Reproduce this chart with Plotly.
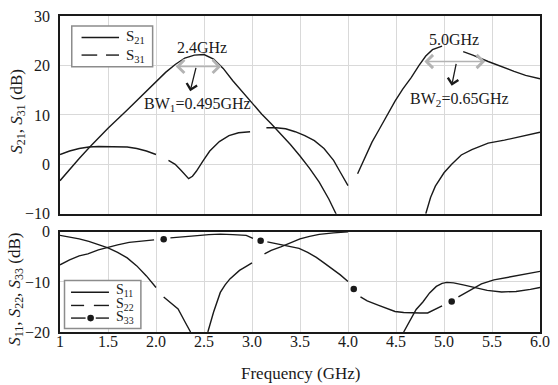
import plotly.graph_objects as go

# ---------------- data ----------------
# Top panel: S21 (solid) and S31 (long-dashed, gaps are None)
s21_freq = [1.0, 1.1, 1.2, 1.31, 1.5, 1.7, 1.9, 2.0, 2.1, 2.2, 2.3, 2.4, 2.5, 2.6, 2.7,
            2.8, 2.9, 3.0, 3.1, 3.2, 3.3, 3.4, 3.5, 3.6, 3.7, 3.8, 3.9, None,
            4.81, 4.86, 4.91, 5.0, 5.08, 5.18, 5.29, 5.46, 5.63, 5.8, 6.0]
s21_db = [-3.3, -1.0, 1.2, 3.5, 7.3, 11.0, 14.9, 16.8, 18.6, 20.2, 21.5, 22.1, 22.2, 21.3, 19.4,
          16.9, 14.6, 12.4, 10.2, 8.2, 6.2, 4.0, 1.7, -0.8, -3.6, -7.0, -11.0, None,
          -10.0, -6.7, -4.4, -1.7, 0.0, 1.9, 3.0, 4.3, 4.9, 5.7, 6.5]

s31_freq = [1.0, 1.1, 1.2, 1.3, 1.4, 1.5, 1.6, 1.7, 1.8, 1.9, 2.0, None,
            2.13, 2.2, 2.26, 2.3, 2.34, 2.38, 2.42, 2.49, 2.56, 2.66, 2.76, 2.86, 2.98, None,
            3.15, 3.25, 3.35, 3.45, 3.55, 3.65, 3.75, 3.85, 3.92, 4.0, None,
            4.10, 4.18, 4.25, 4.32, 4.4, 4.49, 4.57, 4.66, 4.74, 4.81, 4.88, 4.98, None,
            5.20, 5.3, 5.46, 5.6, 5.73, 5.85, 6.0]
s31_db = [2.0, 2.7, 3.2, 3.5, 3.6, 3.6, 3.6, 3.5, 3.2, 2.7, 2.0, None,
          0.8, 0.0, -1.2, -2.1, -2.9, -2.4, -1.4, 0.7, 2.7, 4.6, 5.8, 6.4, 6.6, None,
          7.4, 7.4, 7.2, 6.6, 5.8, 4.8, 3.2, 0.8, -1.6, -4.3, None,
          -1.9, 1.7, 4.5, 6.9, 9.8, 12.8, 15.2, 17.6, 20.0, 21.9, 23.2, 23.9, None,
          22.8, 22.1, 20.8, 19.7, 18.8, 18.0, 17.3]

# Bottom panel: S11 (solid), S22 (long-dashed), S33 (dash with dots in gaps)
s11_freq = [4.58, 4.65, 4.71, 4.78, 4.85, 4.92, 4.98, 5.03, 5.1, 5.2, 5.3, 5.45, 5.6, 5.75, 5.9, 6.0]
s11_db = [-20.0, -17.5, -15.5, -14.0, -12.2, -10.9, -10.3, -10.1, -10.2, -10.6, -11.1, -11.7,
          -12.0, -11.9, -11.5, -11.1]

s22_freq = [1.0, 1.1, 1.2, 1.3, 1.4, 1.5, 1.6, 1.7, 1.8, 1.9, 2.0, None,
            2.08, 2.15, 2.23, 2.3, 2.36, None,
            2.54, 2.60, 2.67, 2.72, 2.77, 2.87, 2.94, 3.0, None,
            3.13, 3.2, 3.3, 3.4, 3.5, 3.6, 3.7, 3.85, 4.0]
s22_db = [-0.7, -1.0, -1.4, -1.9, -2.5, -3.2, -4.1, -5.2, -6.8, -8.8, -11.1, None,
          -13.0, -14.2, -15.4, -17.9, -20.0, None,
          -20.0, -16.0, -12.1, -10.6, -9.4, -7.7, -6.9, -6.2, None,
          -4.4, -3.7, -3.0, -2.2, -1.4, -0.9, -0.5, -0.2, 0.0]

s33_freq = [1.0, 1.1, 1.2, 1.29, 1.4, 1.49, 1.6, 1.72, 1.85, 1.98, None,
            2.15, 2.23, 2.4, 2.55, 2.67, 2.8, 2.94, 3.01, None,
            3.16, 3.3, 3.49, 3.58, 3.67, 3.75, 3.84, 3.92, 4.0, None,
            4.13, 4.2, 4.32, 4.4, 4.49, 4.58, 4.66, 4.75, 4.83, 4.88, 4.98, None,
            5.15, 5.22, 5.29, 5.39, 5.52, 5.66, 5.83, 6.0]
s33_db = [-6.6, -5.6, -4.8, -4.4, -3.6, -3.1, -2.6, -2.1, -1.8, -1.6, None,
          -1.2, -1.1, -0.8, -0.55, -0.46, -0.55, -0.7, -1.3, None,
          -2.0, -2.6, -3.3, -4.1, -5.1, -6.2, -7.4, -8.6, -9.9, None,
          -13.0, -13.8, -14.7, -15.3, -15.9, -16.1, -16.2, -16.2, -16.2, -15.7, -14.8, None,
          -13.0, -12.2, -11.5, -10.4, -9.6, -9.1, -8.5, -7.9]
s33_dot_freq = [2.08, 3.09, 4.06, 5.08]
s33_dot_db = [-1.5, -1.8, -11.4, -13.9]

x_tick_vals = [1, 1.5, 2, 2.5, 3, 3.5, 4, 4.5, 5, 5.5, 6]
x_tick_text = ["1", "1.5", "2.0", "2.5", "3.0", "3.5", "4.0", "4.5", "5.0", "5.5", "6.0"]
top_y_ticks = [-10, 0, 10, 20, 30]
top_y_text = ["\u221210", "0", "10", "20", "30"]
bot_y_ticks = [-20, -10, 0]
bot_y_text = ["\u221220", "\u221210", "0"]

# ---------------- figure ----------------
FONT = "Liberation Serif, Times New Roman, serif"
INK = "#1a1a1a"
LW = 1.4

fig = go.Figure()
fig.add_trace(go.Scatter(x=s21_freq, y=s21_db, mode="lines", line=dict(color=INK, width=LW),
                         xaxis="x", yaxis="y", showlegend=False, connectgaps=False))
fig.add_trace(go.Scatter(x=s31_freq, y=s31_db, mode="lines", line=dict(color=INK, width=LW),
                         xaxis="x", yaxis="y", showlegend=False, connectgaps=False))
fig.add_trace(go.Scatter(x=s11_freq, y=s11_db, mode="lines", line=dict(color=INK, width=LW),
                         xaxis="x2", yaxis="y2", showlegend=False, connectgaps=False))
fig.add_trace(go.Scatter(x=s22_freq, y=s22_db, mode="lines", line=dict(color=INK, width=LW),
                         xaxis="x2", yaxis="y2", showlegend=False, connectgaps=False))
fig.add_trace(go.Scatter(x=s33_freq, y=s33_db, mode="lines", line=dict(color=INK, width=LW),
                         xaxis="x2", yaxis="y2", showlegend=False, connectgaps=False))
fig.add_trace(go.Scatter(x=s33_dot_freq, y=s33_dot_db, mode="markers",
                         marker=dict(color=INK, size=6.5), xaxis="x2", yaxis="y2",
                         showlegend=False, cliponaxis=False))

grid = "#d9d9d9"
common_x = dict(range=[1, 6], tickvals=x_tick_vals, ticktext=x_tick_text, showgrid=True,
                gridcolor=grid, gridwidth=1, zeroline=False, showline=True, mirror=True,
                linecolor=INK, linewidth=1.5, ticks="", domain=[0, 1])
common_y = dict(showgrid=True, gridcolor=grid, gridwidth=1, zeroline=False, showline=True,
                mirror=True, linecolor=INK, linewidth=1.5, ticks="", ticklabelstandoff=5)

fig.update_layout(
    width=558, height=385,
    margin=dict(l=60, r=8, t=14, b=53),
    paper_bgcolor="white", plot_bgcolor="white",
    font=dict(family=FONT, size=16, color=INK),
    xaxis=dict(common_x, anchor="y", showticklabels=False),
    yaxis=dict(common_y, domain=[0.374, 1], range=[-10, 30], tickvals=top_y_ticks,
               ticktext=top_y_text),
    xaxis2=dict(common_x, anchor="y2", showticklabels=True, ticklabelstandoff=-6),
    yaxis2=dict(common_y, domain=[0, 0.317], range=[-20, 0], tickvals=bot_y_ticks,
                ticktext=bot_y_text),
    showlegend=False,
)

ann = []
shapes = []

# Axis titles
ann.append(dict(text="<i>S</i><sub>21</sub>, <i>S</i><sub>31</sub> (dB)", textangle=-90,
                xref="paper", yref="y domain", x=-0.088, y=0.52, showarrow=False,
                xanchor="center", yanchor="middle", font=dict(size=17)))
ann.append(dict(text="<i>S</i><sub>11</sub>, <i>S</i><sub>22</sub>, <i>S</i><sub>33</sub> (dB)",
                textangle=-90, xref="paper", yref="y2 domain", x=-0.092, y=0.43,
                showarrow=False, xanchor="center", yanchor="middle", font=dict(size=17)))
ann.append(dict(text="Frequency (GHz)", xref="paper", yref="paper", x=0.5, y=-0.13,
                showarrow=False, xanchor="center", yanchor="middle", font=dict(size=17)))

# Bandwidth annotations (top panel)
GRAY = "#b3b3b3"
ann.append(dict(text="", x=2.68, y=19.8, ax=2.19, ay=19.8, xref="x", yref="y", axref="x",
                ayref="y", showarrow=True, arrowside="end+start", arrowhead=4,
                startarrowhead=4, arrowsize=1.7, startarrowsize=1.7, arrowwidth=1.5,
                arrowcolor=GRAY))
ann.append(dict(text="", x=5.43, y=20.8, ax=4.78, ay=20.8, xref="x", yref="y", axref="x",
                ayref="y", showarrow=True, arrowside="end+start", arrowhead=4,
                startarrowhead=4, arrowsize=1.7, startarrowsize=1.7, arrowwidth=1.5,
                arrowcolor=GRAY))
ann.append(dict(text="", x=2.356, y=14.8, ax=2.42, ay=19.8, xref="x", yref="y", axref="x",
                ayref="y", showarrow=True, arrowhead=4, arrowsize=1.6, arrowwidth=1.3,
                arrowcolor=INK))
ann.append(dict(text="", x=5.08, y=15.9, ax=5.13, ay=20.6, xref="x", yref="y", axref="x",
                ayref="y", showarrow=True, arrowhead=4, arrowsize=1.6, arrowwidth=1.3,
                arrowcolor=INK))
ann.append(dict(text="2.4GHz", x=2.48, y=23.7, xref="x", yref="y", showarrow=False,
                font=dict(size=16)))
ann.append(dict(text="BW<sub>1</sub>=0.495GHz", x=2.43, y=12.1, xref="x", yref="y",
                showarrow=False, font=dict(size=16)))
ann.append(dict(text="5.0GHz", x=5.1, y=25.3, xref="x", yref="y", showarrow=False,
                font=dict(size=16)))
ann.append(dict(text="BW<sub>2</sub>=0.65GHz", x=5.16, y=13.1, xref="x", yref="y",
                showarrow=False, font=dict(size=16)))

# Manual legend, top panel
LEG = "#8c8c8c"
shapes.append(dict(type="rect", xref="x domain", yref="y domain", x0=0.0245, x1=0.193,
                   y0=0.744, y1=0.950, line=dict(color=LEG, width=1.5), fillcolor="white",
                   layer="above"))
shapes.append(dict(type="line", xref="x domain", yref="y domain", x0=0.0449, x1=0.123,
                   y0=0.891, y1=0.891, line=dict(color=INK, width=LW)))
for a, b in [(0.0449, 0.0775), (0.0959, 0.123)]:
    shapes.append(dict(type="line", xref="x domain", yref="y domain", x0=a, x1=b,
                       y0=0.8025, y1=0.8025, line=dict(color=INK, width=LW)))
ann.append(dict(text="S<sub>21</sub>", xref="x domain", yref="y domain", x=0.134, y=0.895,
                xanchor="left", yanchor="middle", showarrow=False, font=dict(size=15)))
ann.append(dict(text="S<sub>31</sub>", xref="x domain", yref="y domain", x=0.134, y=0.8,
                xanchor="left", yanchor="middle", showarrow=False, font=dict(size=15)))

# Manual legend, bottom panel
shapes.append(dict(type="rect", xref="x2 domain", yref="y2 domain", x0=0.0094, x1=0.1685,
                   y0=0.034, y1=0.513, line=dict(color=LEG, width=1.5), fillcolor="white",
                   layer="above"))
shapes.append(dict(type="line", xref="x2 domain", yref="y2 domain", x0=0.023, x1=0.102,
                   y0=0.397, y1=0.397, line=dict(color=INK, width=LW)))
for a, b in [(0.023, 0.0502), (0.0706, 0.102)]:
    shapes.append(dict(type="line", xref="x2 domain", yref="y2 domain", x0=a, x1=b,
                       y0=0.265, y1=0.265, line=dict(color=INK, width=LW)))
for a, b in [(0.023, 0.0533), (0.0745, 0.102)]:
    shapes.append(dict(type="line", xref="x2 domain", yref="y2 domain", x0=a, x1=b,
                       y0=0.139, y1=0.139, line=dict(color=INK, width=LW)))
shapes.append(dict(type="circle", xref="x2 domain", yref="y2 domain", xsizemode="pixel",
                   ysizemode="pixel", xanchor=0.0638, yanchor=0.139, x0=-3.3, x1=3.3,
                   y0=-3.3, y1=3.3, fillcolor=INK, line=dict(color=INK, width=0)))
for txt, yy in [("S<sub>11</sub>", 0.41), ("S<sub>22</sub>", 0.275), ("S<sub>33</sub>", 0.14)]:
    ann.append(dict(text=txt, xref="x2 domain", yref="y2 domain", x=0.112, y=yy,
                    xanchor="left", yanchor="middle", showarrow=False, font=dict(size=14)))

fig.update_layout(annotations=ann, shapes=shapes)
fig.write_html("out.html", config={"displayModeBar": False},
               post_script="document.body.style.margin='0';document.body.style.overflow='hidden';")
